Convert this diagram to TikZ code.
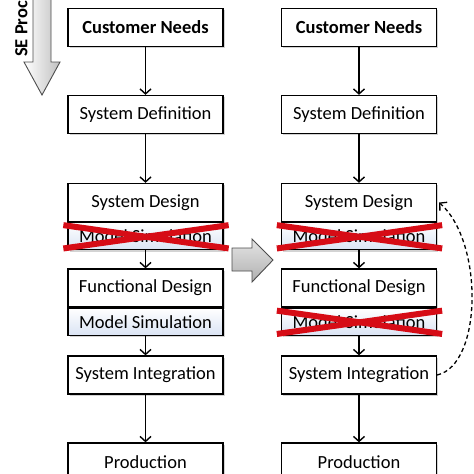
\documentclass[tikz,border=0pt]{standalone}
\usepackage{fontspec}
\setmainfont{Carlito}
\definecolor{BoxShade}{RGB}{218,228,244}
\definecolor{CrossColor}{RGB}{214,12,22}
\definecolor{FlowGray}{RGB}{150,150,150}
\usetikzlibrary{arrows.meta, shadows, positioning, calc}
\tikzstyle{arrow} = [line width=1.4pt, black, -{Straight Barb[length=5pt,width=11pt]}]
\tikzstyle{stage} = [draw, line width=1.3pt, fill=white, minimum width=155pt, minimum height=38pt, inner sep=0pt, font=\fontsize{18.5}{22}\selectfont, drop shadow={shadow xshift=1.8pt, shadow yshift=-1.8pt, opacity=0.35}]
\tikzstyle{simbox} = [stage, minimum height=27pt, top color=white, bottom color=BoxShade]
\tikzstyle{cross} = [line width=6pt, CrossColor]
\tikzstyle{flow} = [draw=black!70, line width=0.9pt]

\begin{document}
\begin{tikzpicture}[x=1pt, y=-1pt]
            \useasboundingbox (0,0) rectangle (474,474);
            
            % Process direction
            \draw[flow, left color=white, right color=FlowGray!60] (33,-5) -- (33,62) -- (24,62) -- (42,95) -- (60,62) -- (51,62) -- (51,-5) -- cycle;
            \node[rotate=90, anchor=west, inner sep=0pt, font=\fontsize{18.5}{22}\selectfont\bfseries] (seproc) at (21.5,57) {SE Process};
            
            % Left column
            \node[stage, font=\fontsize{18.5}{22}\selectfont\bfseries] (needsL) at (145.5,27.5) {Customer Needs};
            \node[stage] (defL) at (145.5,114.5) {System Definition};
            \node[stage] (desL) at (145.5,202.5) {System Design};
            \node[simbox, below=0pt of desL] (simL) {Model Simulation};
            \node[stage] (funL) at (145.5,288) {Functional Design};
            \node[simbox, below=0pt of funL] (fsimL) {Model Simulation};
            \node[stage] (intL) at (145.5,375) {System Integration};
            \node[stage] (prodL) at (145.5,462) {Production};
            
            % Right column
            \node[stage, font=\fontsize{18.5}{22}\selectfont\bfseries] (needsR) at (359,27.5) {Customer Needs};
            \node[stage] (defR) at (359,114.5) {System Definition};
            \node[stage] (desR) at (359,202.5) {System Design};
            \node[simbox, below=0pt of desR] (simR) {Model Simulation};
            \node[stage] (funR) at (359,288) {Functional Design};
            \node[simbox, below=0pt of funR] (fsimR) {Model Simulation};
            \node[stage] (intR) at (359,375) {System Integration};
            \node[stage] (prodR) at (359,462) {Production};
            
            % Transition
            \draw[flow, top color=FlowGray!25, bottom color=FlowGray!75] (232,248) -- (252,248) -- (252,239) -- (273,260) -- (252,282) -- (252,271) -- (232,271) -- cycle;
            
            % Connections
            \draw[arrow] (needsL) -- (defL);
            \draw[arrow] (defL) -- (desL);
            \draw[arrow] (simL) -- (funL);
            \draw[arrow] (fsimL) -- (intL);
            \draw[arrow] (intL) -- (prodL);
            \draw[arrow] (needsR) -- (defR);
            \draw[arrow] (defR) -- (desR);
            \draw[arrow] (simR) -- (funR);
            \draw[arrow] (fsimR) -- (intR);
            \draw[arrow] (intR) -- (prodR);
            
            % Feedback loop
            \draw[line width=1.3pt, dash pattern=on 4pt off 3pt, -{Straight Barb[length=5pt,width=11pt]}] (intR.east) .. controls +(45,-10) and +(45,40) .. ($(desR.east)+(2,0)$);
            
            % Removed simulations
            \foreach \crossed in {simL, simR, fsimR} {
                \draw[cross] ($(\crossed.north west)+(-4,3)$) -- ($(\crossed.south east)+(5,-2)$);
                \draw[cross] ($(\crossed.south west)+(-4,-2)$) -- ($(\crossed.north east)+(5,3)$);
            }
        \end{tikzpicture}
\end{document}
